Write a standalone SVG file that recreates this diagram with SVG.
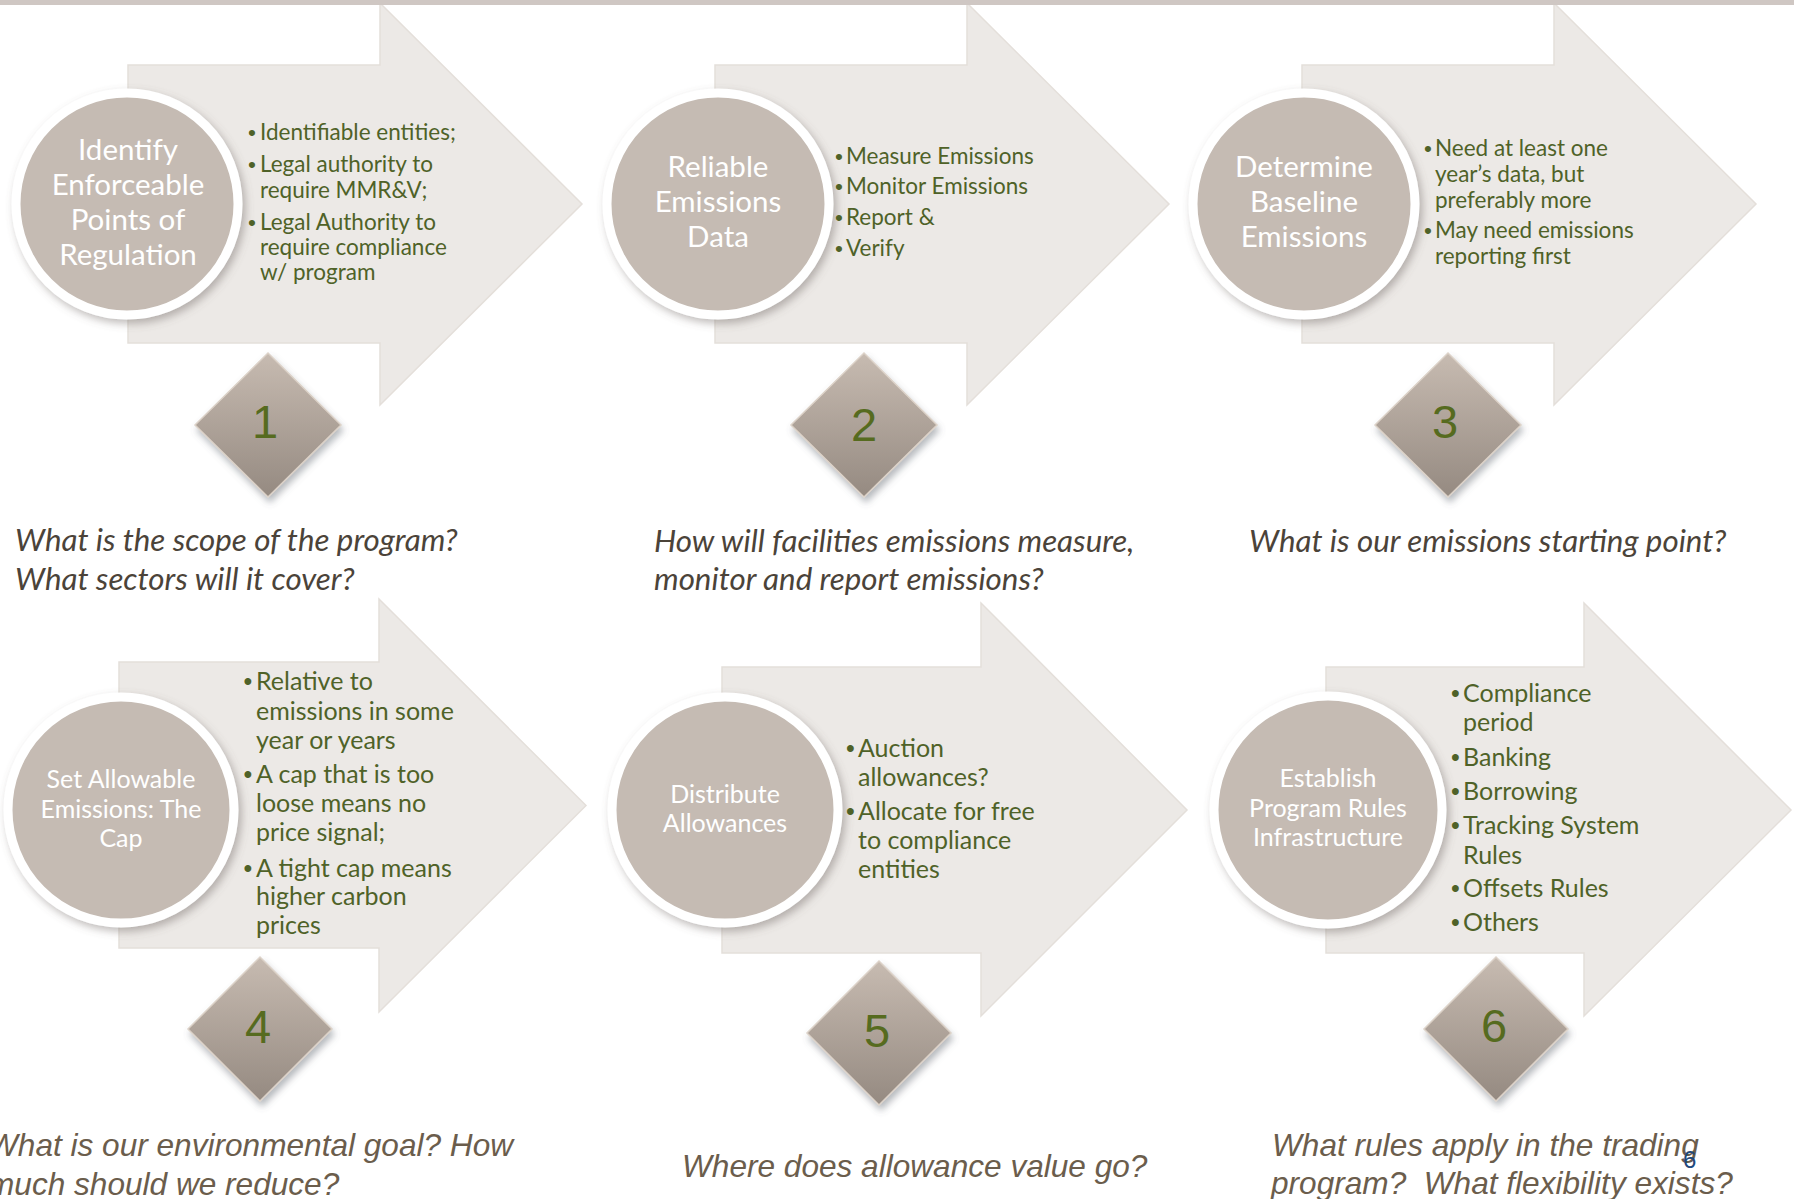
<svg xmlns="http://www.w3.org/2000/svg" width="1794" height="1199" viewBox="0 0 1794 1199">
  <defs>
    <linearGradient id="gemFill" x1="0" y1="0" x2="0" y2="1">
      <stop offset="0" stop-color="#c7bbb1"/>
      <stop offset="1" stop-color="#958a81"/>
    </linearGradient>
    <filter id="discShadow" x="-20%" y="-20%" width="150%" height="150%">
      <feDropShadow dx="3" dy="4" stdDeviation="4" flood-color="#6f6660" flood-opacity="0.45"/>
    </filter>
    <filter id="gemShadow" x="-30%" y="-30%" width="160%" height="160%">
      <feDropShadow dx="2" dy="5" stdDeviation="3.5" flood-color="#5e6670" flood-opacity="0.45"/>
    </filter>
    <style>
      .arrow { fill: #ece9e6; stroke: #e4dfda; stroke-width: 1.5; }
      .disc { fill: #c5bbb3; stroke: #ffffff; stroke-width: 9; filter: url(#discShadow); }
      .disc-label { font-family: Lato, "Open Sans", sans-serif; fill: #ffffff; text-anchor: middle; }
      .big { font-size: 29.5px; }
      .small { font-size: 25px; }
      .pts { font-family: Lato, "Open Sans", sans-serif; fill: #4f6228; }
      .dot { font-family: "Liberation Sans", Arial, sans-serif; fill: #4f6228; text-anchor: middle; }
      .pts-top { font-size: 22.5px; }
      .pts-bot { font-size: 25px; }
      .gem { fill: url(#gemFill); stroke: #dcd2c8; stroke-width: 1.5; filter: url(#gemShadow); }
      .num { font-family: "Liberation Sans", Arial, sans-serif; font-size: 47px; fill: #566b1f; text-anchor: middle; }
      .q-top { font-family: Lato, "Open Sans", sans-serif; font-style: italic; font-size: 31.3px; fill: #4b4339; }
      .q-bot { font-family: "Liberation Sans", Arial, sans-serif; font-style: italic; font-size: 31.6px; fill: #6b5d4c; white-space: pre; }
    </style>
  </defs>

  <rect width="1794" height="1199" fill="#ffffff"/>

  <!-- Step 1 -->
  <g id="step1">
    <path class="arrow" d="M128,65 H380 V3 L582,204 L380,405 V343 H128 Z"/>
    <circle class="disc" cx="127" cy="204" r="111"/>
    <text class="disc-label big"><tspan y="160" x="128">Identify</tspan><tspan y="195" x="128">Enforceable</tspan><tspan y="230" x="128">Points of</tspan><tspan y="265" x="128">Regulation</tspan></text>
    <text class="dot pts-top"><tspan x="252" y="140">•</tspan><tspan x="252" y="172">•</tspan><tspan x="252" y="230">•</tspan></text>
    <text class="pts pts-top">
      <tspan x="260" y="140">Identifiable entities;</tspan>
      <tspan x="260" y="172">Legal authority to</tspan>
      <tspan x="260" y="198">require MMR&amp;V;</tspan>
      <tspan x="260" y="230">Legal Authority to</tspan>
      <tspan x="260" y="255">require compliance</tspan>
      <tspan x="260" y="280">w/ program</tspan>
    </text>
    <polygon class="gem" points="268,353 341,425 268,497 195,425"/>
    <text class="num" x="265" y="438">1</text>
    <text class="q-top"><tspan x="15" y="551">What is the scope of the program?</tspan><tspan x="15" y="590">What sectors will it cover?</tspan></text>
  </g>

  <!-- Step 2 -->
  <g id="step2">
    <path class="arrow" d="M715,65 H967 V3 L1169,204 L967,405 V343 H715 Z"/>
    <circle class="disc" cx="718" cy="204" r="111"/>
    <text class="disc-label big"><tspan y="177" x="718">Reliable</tspan><tspan y="212" x="718">Emissions</tspan><tspan y="247" x="718">Data</tspan></text>
    <text class="dot pts-top"><tspan x="839" y="164">•</tspan><tspan x="839" y="194">•</tspan><tspan x="839" y="225">•</tspan><tspan x="839" y="256">•</tspan></text>
    <text class="pts pts-top">
      <tspan x="846" y="164">Measure Emissions</tspan>
      <tspan x="846" y="194">Monitor Emissions</tspan>
      <tspan x="846" y="225">Report &amp;</tspan>
      <tspan x="846" y="256">Verify</tspan>
    </text>
    <polygon class="gem" points="864,353 937,425 864,497 791,425"/>
    <text class="num" x="864" y="441">2</text>
    <text class="q-top"><tspan x="654" y="552">How will facilities emissions measure,</tspan><tspan x="654" y="590">monitor and report emissions?</tspan></text>
  </g>

  <!-- Step 3 -->
  <g id="step3">
    <path class="arrow" d="M1302,65 H1554 V3 L1756,204 L1554,405 V343 H1302 Z"/>
    <circle class="disc" cx="1304" cy="204" r="111"/>
    <text class="disc-label big"><tspan y="177" x="1304">Determine</tspan><tspan y="212" x="1304">Baseline</tspan><tspan y="247" x="1304">Emissions</tspan></text>
    <text class="dot pts-top"><tspan x="1428" y="156">•</tspan><tspan x="1428" y="238">•</tspan></text>
    <text class="pts pts-top">
      <tspan x="1435" y="156">Need at least one</tspan>
      <tspan x="1435" y="182">year’s data, but</tspan>
      <tspan x="1435" y="208">preferably more</tspan>
      <tspan x="1435" y="238">May need emissions</tspan>
      <tspan x="1435" y="264">reporting first</tspan>
    </text>
    <polygon class="gem" points="1448,353 1521,425 1448,497 1375,425"/>
    <text class="num" x="1445" y="438">3</text>
    <text class="q-top"><tspan x="1249" y="552">What is our emissions starting point?</tspan></text>
  </g>

  <!-- Step 4 -->
  <g id="step4">
    <path class="arrow" d="M119,662 H379 V599 L586,805.5 L379,1012 V948 H119 Z"/>
    <circle class="disc" cx="121" cy="810" r="113"/>
    <text class="disc-label small"><tspan y="788" x="121">Set Allowable</tspan><tspan y="818" x="121">Emissions: The</tspan><tspan y="847" x="121">Cap</tspan></text>
    <text class="dot pts-bot"><tspan x="248" y="690">•</tspan><tspan x="248" y="783">•</tspan><tspan x="248" y="877">•</tspan></text>
    <text class="pts pts-bot">
      <tspan x="256" y="690">Relative to</tspan>
      <tspan x="256" y="720">emissions in some</tspan>
      <tspan x="256" y="749">year or years</tspan>
      <tspan x="256" y="783">A cap that is too</tspan>
      <tspan x="256" y="812">loose means no</tspan>
      <tspan x="256" y="841">price signal;</tspan>
      <tspan x="256" y="877">A tight cap means</tspan>
      <tspan x="256" y="905">higher carbon</tspan>
      <tspan x="256" y="934">prices</tspan>
    </text>
    <polygon class="gem" points="260,957 332,1029 260,1101 188,1029"/>
    <text class="num" x="258" y="1043">4</text>
    <text class="q-bot"><tspan x="-12" y="1155.5">What is our environmental goal? How</tspan><tspan x="-12" y="1194.5">much should we reduce?</tspan></text>
  </g>

  <!-- Step 5 -->
  <g id="step5">
    <path class="arrow" d="M722,667 H981 V603 L1187,810 L981,1016 V953 H722 Z"/>
    <circle class="disc" cx="725" cy="810" r="113"/>
    <text class="disc-label small"><tspan y="803" x="725">Distribute</tspan><tspan y="832" x="725">Allowances</tspan></text>
    <text class="dot pts-bot"><tspan x="850.5" y="757">•</tspan><tspan x="850.5" y="820">•</tspan></text>
    <text class="pts pts-bot">
      <tspan x="858" y="757">Auction</tspan>
      <tspan x="858" y="786">allowances?</tspan>
      <tspan x="858" y="820">Allocate for free</tspan>
      <tspan x="858" y="849">to compliance</tspan>
      <tspan x="858" y="878">entities</tspan>
    </text>
    <polygon class="gem" points="879,961 951,1033 879,1105 807,1033"/>
    <text class="num" x="877" y="1047">5</text>
    <text class="q-bot"><tspan x="682" y="1177">Where does allowance value go?</tspan></text>
  </g>

  <!-- Step 6 -->
  <g id="step6">
    <path class="arrow" d="M1326,667 H1584 V603 L1791,810 L1584,1016 V953 H1326 Z"/>
    <circle class="disc" cx="1328" cy="810" r="114"/>
    <text class="disc-label small"><tspan y="787" x="1328">Establish</tspan><tspan y="817" x="1328">Program Rules</tspan><tspan y="846" x="1328">Infrastructure</tspan></text>
    <text class="dot pts-bot"><tspan x="1455.5" y="702">•</tspan><tspan x="1455.5" y="766">•</tspan><tspan x="1455.5" y="800">•</tspan><tspan x="1455.5" y="834">•</tspan><tspan x="1455.5" y="897">•</tspan><tspan x="1455.5" y="931">•</tspan></text>
    <text class="pts pts-bot">
      <tspan x="1463" y="702">Compliance</tspan>
      <tspan x="1463" y="731">period</tspan>
      <tspan x="1463" y="766">Banking</tspan>
      <tspan x="1463" y="800">Borrowing</tspan>
      <tspan x="1463" y="834">Tracking System</tspan>
      <tspan x="1463" y="864">Rules</tspan>
      <tspan x="1463" y="897">Offsets Rules</tspan>
      <tspan x="1463" y="931">Others</tspan>
    </text>
    <polygon class="gem" points="1496,957 1568,1029 1496,1101 1424,1029"/>
    <text class="num" x="1494" y="1042">6</text>
    <text class="q-bot"><tspan x="1272" y="1155.5">What rules apply in the trading</tspan><tspan x="1271" y="1193.5">program?  What flexibility exists?</tspan></text>
  </g>

  <!-- slide page number -->
  <text x="1683" y="1168" font-family="Liberation Sans, Arial, sans-serif" font-size="24" fill="#1f497d">6</text>

  <!-- header band -->
  <rect x="0" y="0" width="1794" height="5" fill="#cfc7c3"/>
</svg>
